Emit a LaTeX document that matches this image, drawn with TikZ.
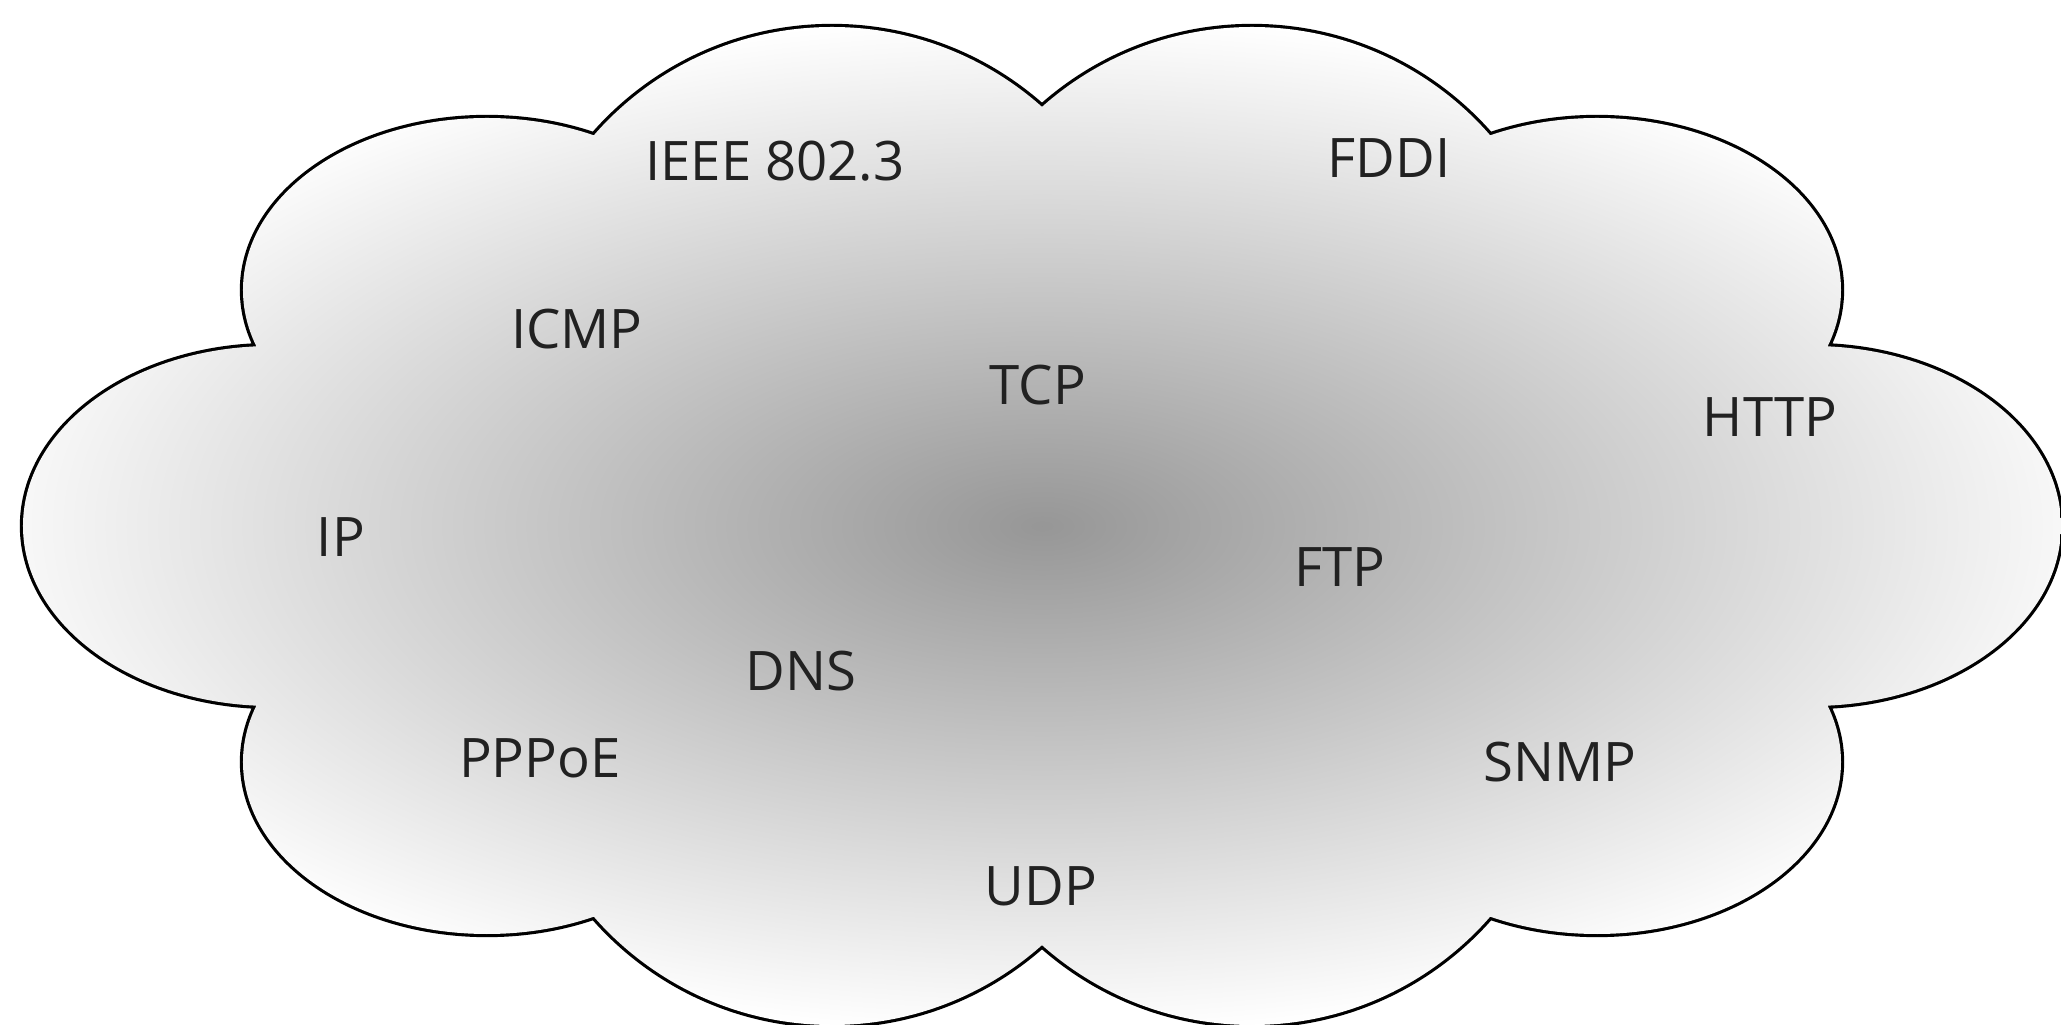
\documentclass[tikz,border=0pt]{standalone}
\usepackage{fontspec}
\setmainfont{Open Sans}
\definecolor{cloudcore}{gray}{0.59}
\definecolor{labelink}{gray}{0.13}
\pgfdeclareradialshading{cloudfade}{\pgfpoint{0bp}{0bp}}{color(0bp)=(cloudcore); color(25bp)=(white); color(50bp)=(white)}
\tikzset{
  puffs/.style={insert path={
      (-2.1,1.83) circle[radius=3.16] (2.1,1.83) circle[radius=3.16]
      (-2.1,-1.83) circle[radius=3.16] (2.1,-1.83) circle[radius=3.16]
      (-5.55,2.36) ellipse[x radius=2.44,y radius=1.72]
      (5.55,2.36) ellipse[x radius=2.44,y radius=1.72]
      (-5.55,-2.36) ellipse[x radius=2.44,y radius=1.72]
      (5.55,-2.36) ellipse[x radius=2.44,y radius=1.72]
      (-7.7,0) ellipse[x radius=2.49,y radius=1.8]
      (7.7,0) ellipse[x radius=2.49,y radius=1.8]}},
  proto/.style={font=\fontsize{15.5}{18}\selectfont, text=labelink, inner sep=0pt}
}
\begin{document}
\begin{tikzpicture}
  \useasboundingbox (-10.42,-4.99) rectangle (10.19,5.26);
  % cloud outline, the inner half of the stroke is covered by the shading
  \draw[line width=1.8pt, puffs];
  \begin{scope}
    \clip[puffs] (0,0) ellipse[x radius=7.7,y radius=3.8];
    \shade[shading=cloudfade] (-11,-5.1) rectangle (11,5.1);
  \end{scope}
  % protocols
  \node[proto] (ieee) at (-2.67,3.65) {IEEE 802.3};
  \node[proto] (fddi) at (3.47,3.68) {FDDI};
  \node[proto] (icmp) at (-4.65,1.97) {ICMP};
  \node[proto] (tcp) at (-0.04,1.41) {TCP};
  \node[proto] (http) at (7.28,1.09) {HTTP};
  \node[proto] (ip) at (-7.01,-0.11) {IP};
  \node[proto] (ftp) at (2.98,-0.41) {FTP};
  \node[proto] (dns) at (-2.41,-1.45) {DNS};
  \node[proto] (pppoe) at (-5.02,-2.32) {PPPoE};
  \node[proto] (snmp) at (5.18,-2.36) {SNMP};
  \node[proto] (udp) at (-0.01,-3.60) {UDP};
\end{tikzpicture}
\end{document}
